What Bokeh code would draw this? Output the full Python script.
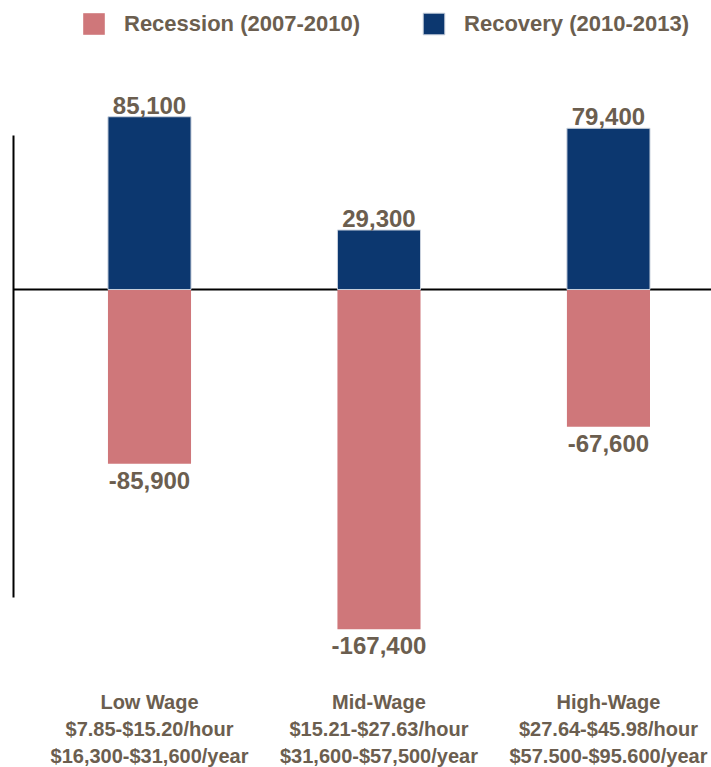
from bokeh.plotting import figure
from bokeh.models import (Range1d, LinearAxis, FixedTicker, Span, Legend, LegendItem,
                          ColumnDataSource)
from bokeh.core.properties import value
from bokeh.embed import file_html
from bokeh.resources import INLINE

# ---- data ----
CATEGORIES = ["Low Wage", "Mid-Wage", "High-Wage"]
HOURLY = ["$7.85-$15.20/hour", "$15.21-$27.63/hour", "$27.64-$45.98/hour"]
YEARLY = ["$16,300-$31,600/year", "$31,600-$57,500/year", "$57.500-$95.600/year"]
RECESSION = [-85900, -167400, -67600]
RECOVERY = [85100, 29300, 79400]
SERIES_NAMES = ["Recession (2007-2010)", "Recovery (2010-2013)"]

# ---- styles ----
PINK = "#cf777a"
NAVY = "#0c376f"
TEXT = "#6b5e4f"
FONT = "Liberation Sans"

Y_START, Y_END = -235470, 142360
X_START, X_END = -0.5926, 2.449
AXIS_BOUNDS = (-151700, 75900)

idx = list(range(len(CATEGORIES)))

p = figure(width=711, height=767, output_backend="svg", toolbar_location=None,
           x_range=Range1d(X_START, X_END), y_range=Range1d(Y_START, Y_END),
           x_axis_location=None, y_axis_location=None,
           min_border_left=13, min_border_right=0, min_border_top=0, min_border_bottom=0)
p.grid.visible = False
p.outline_line_color = None
p.background_fill_color = "white"
p.border_fill_color = "white"

yax = LinearAxis(ticker=FixedTicker(ticks=[]), bounds=AXIS_BOUNDS,
                 axis_line_color="black", axis_line_width=2,
                 major_tick_in=0, major_tick_out=0, minor_tick_in=0, minor_tick_out=0,
                 major_label_standoff=0, major_label_text_font_size="0px")
p.add_layout(yax, "left")

zero = Span(location=0, dimension="width", line_color="black", line_width=2, level="underlay")
p.add_layout(zero)

src = ColumnDataSource(dict(
    x=idx, rec=RECESSION, recov=RECOVERY,
    rec_lbl=[f"{v:,}" for v in RECESSION],
    recov_lbl=[f"{v:,}" for v in RECOVERY],
    cat_lbl=[f"{c}\n{h}\n{y}" for c, h, y in zip(CATEGORIES, HOURLY, YEARLY)],
    ybase=[Y_START] * len(CATEGORIES),
))

BAR_W = 0.362
r_rec = p.vbar(x="x", top="rec", bottom=0, width=BAR_W, source=src,
               fill_color=PINK, line_color=None)
r_recov = p.vbar(x="x", top="recov", bottom=0, width=BAR_W, source=src,
                 fill_color=NAVY, line_color="#c9d1dd", line_width=1)

common = dict(text_font=value(FONT), text_font_style="bold", text_color=TEXT,
              text_align="center")
p.text(x="x", y="recov", text="recov_lbl", source=src, text_baseline="bottom",
       y_offset=-3, text_font_size="24px", **common)
p.text(x="x", y="rec", text="rec_lbl", source=src, text_baseline="top",
       y_offset=8, text_font_size="24px", **common)
p.text(x="x", y="ybase", text="cat_lbl", source=src, text_baseline="bottom",
       y_offset=0, text_font_size="20px", text_line_height=1.24, **common)

legend = Legend(items=[LegendItem(label=SERIES_NAMES[0], renderers=[r_rec]),
                       LegendItem(label=SERIES_NAMES[1], renderers=[r_recov])],
                orientation="horizontal", location=(67, 730),
                glyph_width=27, glyph_height=27, label_standoff=17, spacing=60,
                padding=0, margin=0, border_line_color=None, background_fill_alpha=0,
                label_text_font=FONT, label_text_font_style="bold",
                label_text_font_size="22px", label_text_color=TEXT)
p.add_layout(legend)

open("out.html", "w").write(file_html(p, INLINE))
